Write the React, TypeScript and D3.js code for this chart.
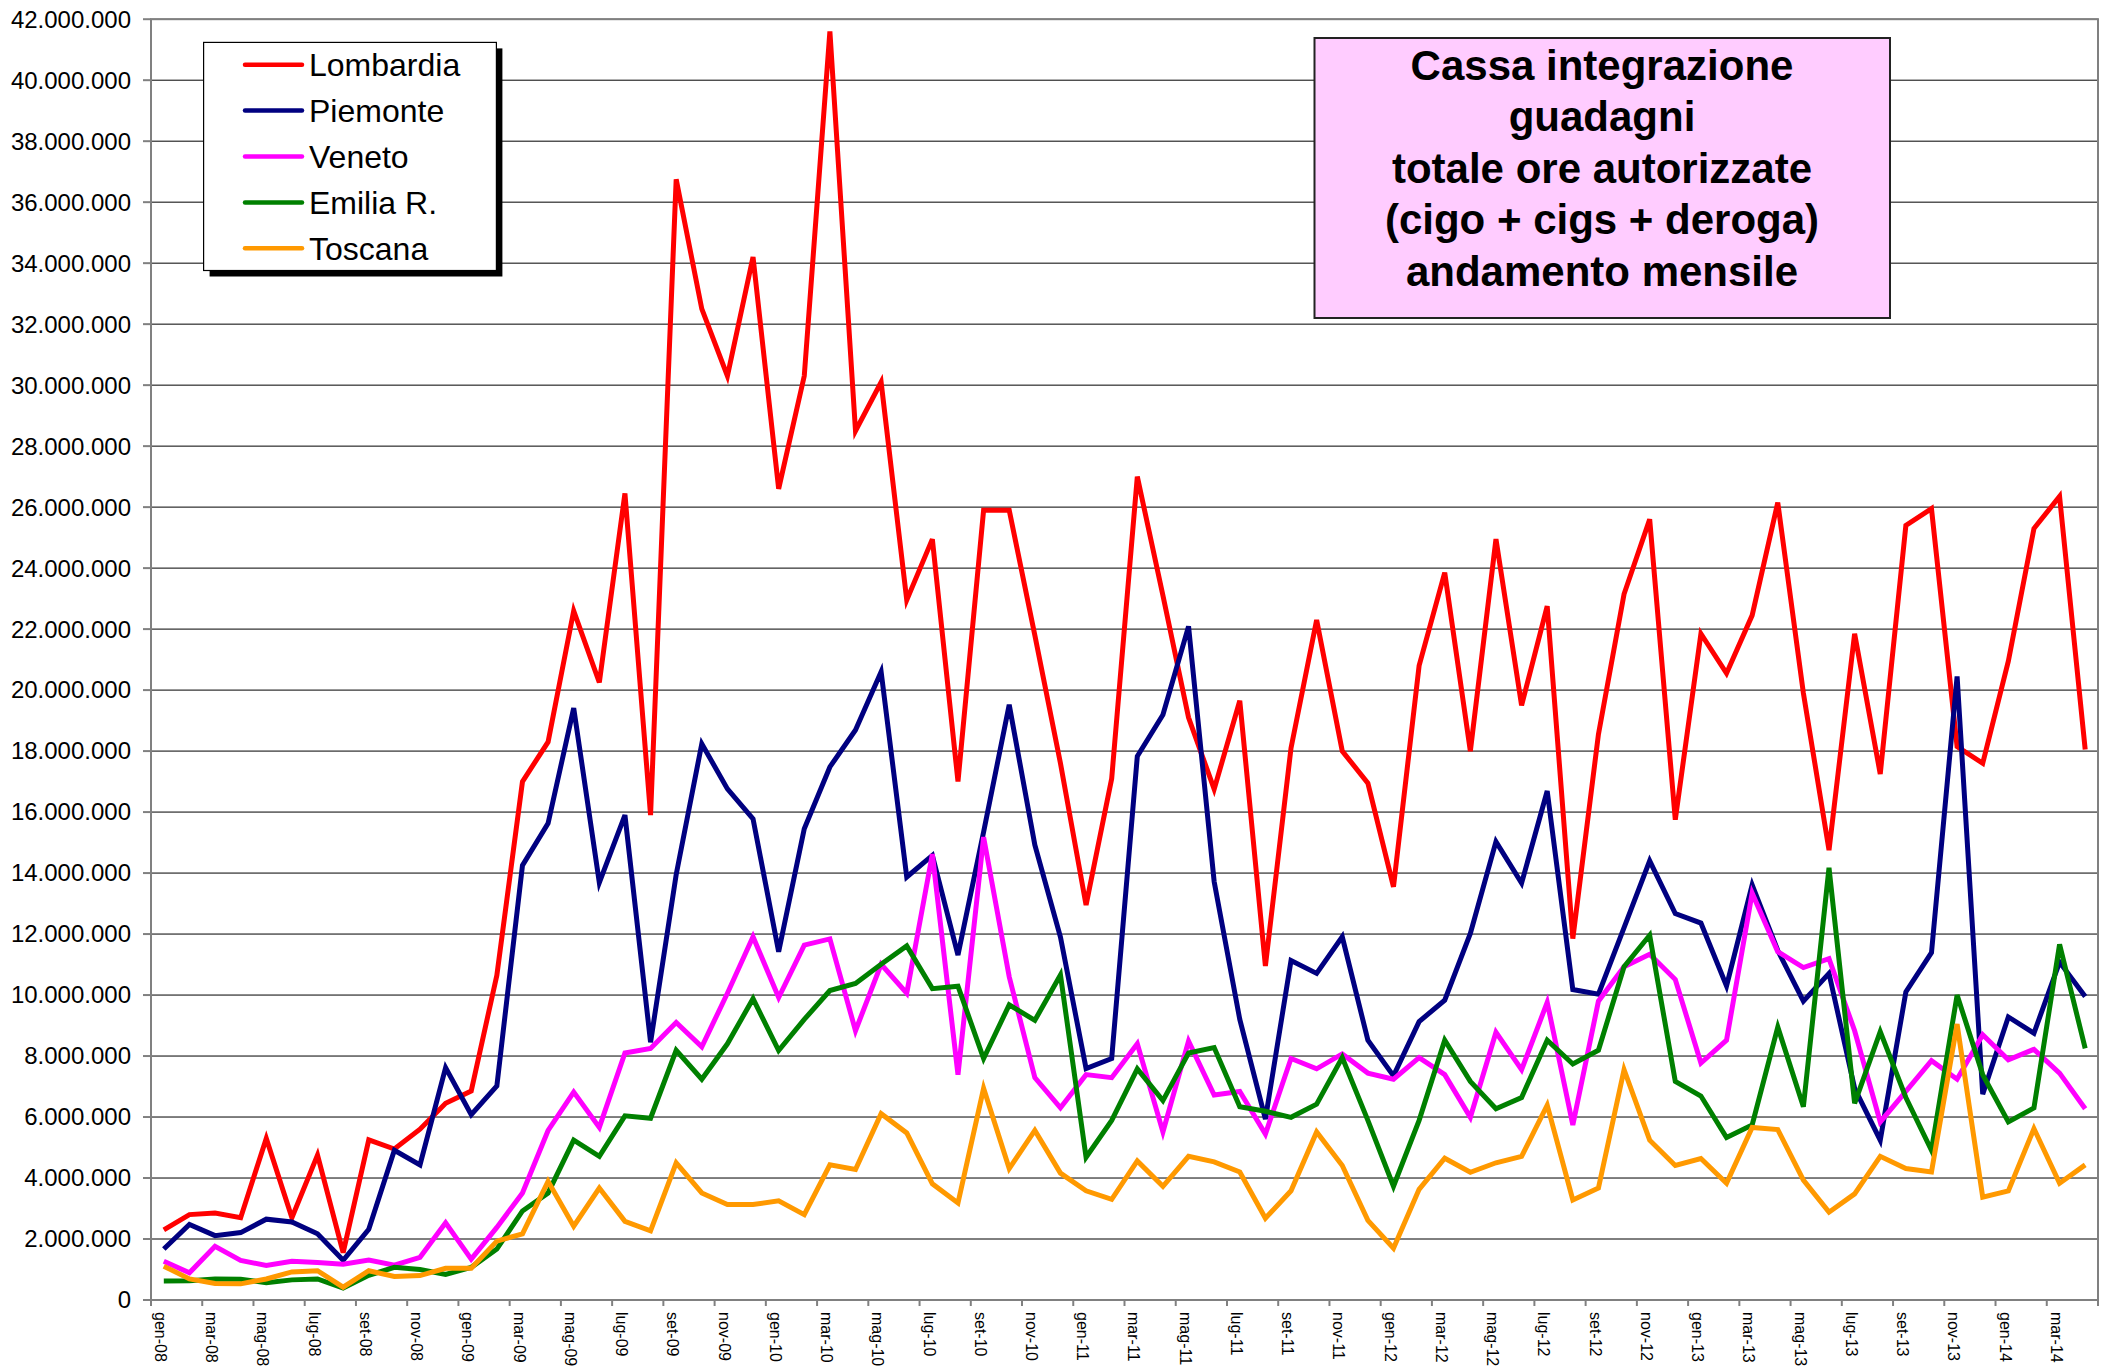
import React from 'react';
import * as d3 from 'd3';

const categories = [
  'gen-08','feb-08','mar-08','apr-08','mag-08','giu-08','lug-08','ago-08','set-08','ott-08','nov-08','dic-08',
  'gen-09','feb-09','mar-09','apr-09','mag-09','giu-09','lug-09','ago-09','set-09','ott-09','nov-09','dic-09',
  'gen-10','feb-10','mar-10','apr-10','mag-10','giu-10','lug-10','ago-10','set-10','ott-10','nov-10','dic-10',
  'gen-11','feb-11','mar-11','apr-11','mag-11','giu-11','lug-11','ago-11','set-11','ott-11','nov-11','dic-11',
  'gen-12','feb-12','mar-12','apr-12','mag-12','giu-12','lug-12','ago-12','set-12','ott-12','nov-12','dic-12',
  'gen-13','feb-13','mar-13','apr-13','mag-13','giu-13','lug-13','ago-13','set-13','ott-13','nov-13','dic-13',
  'gen-14','feb-14','mar-14','apr-14'
];

// values in millions of hours
const lombardia = [2.3,2.8,2.85,2.7,5.3,2.7,4.75,1.55,5.25,4.95,5.6,6.45,6.85,10.65,17.0,18.3,22.6,20.25,26.45,15.9,36.75,32.5,30.3,34.2,26.6,30.3,41.6,28.5,30.1,22.95,24.95,17.0,25.9,25.9,21.8,17.6,12.95,17.1,27.0,23.1,19.1,16.75,19.65,10.95,18.1,22.3,18.0,16.95,13.55,20.8,23.85,18.0,24.95,19.5,22.75,11.85,18.55,23.15,25.6,15.75,21.85,20.55,22.45,26.15,19.9,14.75,21.85,17.25,25.4,25.95,18.15,17.6,20.95,25.3,26.35,18.05];
const piemonte = [1.67,2.48,2.11,2.21,2.65,2.56,2.17,1.3,2.32,4.91,4.43,7.62,6.08,7.02,14.25,15.63,19.41,13.69,15.9,8.45,13.95,18.24,16.76,15.78,11.42,15.45,17.48,18.69,20.6,13.87,14.58,11.31,15.35,19.52,14.92,11.9,7.59,7.92,17.83,19.19,22.09,13.72,9.2,5.93,11.13,10.71,11.91,8.52,7.35,9.13,9.83,12.02,15.03,13.67,16.69,10.18,10.03,12.21,14.4,12.67,12.36,10.3,13.61,11.46,9.8,10.71,6.94,5.24,10.1,11.39,20.45,6.75,9.28,8.75,11.08,9.95];
const veneto = [1.27,0.89,1.76,1.3,1.13,1.27,1.23,1.17,1.31,1.14,1.4,2.53,1.34,2.38,3.51,5.56,6.82,5.66,8.1,8.25,9.1,8.3,10.06,11.91,9.92,11.64,11.84,8.83,11.01,10.06,14.62,7.39,15.18,10.6,7.29,6.3,7.39,7.29,8.4,5.51,8.49,6.72,6.84,5.44,7.92,7.58,8.07,7.44,7.24,7.95,7.39,5.99,8.78,7.55,9.76,5.74,9.8,10.93,11.34,10.51,7.77,8.52,13.34,11.42,10.9,11.19,8.83,5.84,6.84,7.85,7.24,8.7,7.88,8.22,7.44,6.27];
const emilia = [0.62,0.63,0.69,0.68,0.57,0.66,0.69,0.39,0.81,1.07,1.0,0.84,1.07,1.67,2.92,3.51,5.24,4.71,6.04,5.96,8.19,7.24,8.4,9.88,8.18,9.2,10.15,10.38,11.01,11.61,10.21,10.29,7.92,9.68,9.17,10.66,4.68,5.89,7.58,6.54,8.1,8.28,6.34,6.19,5.99,6.42,7.95,5.89,3.73,5.89,8.52,7.17,6.27,6.64,8.52,7.74,8.19,10.93,11.96,7.17,6.69,5.33,5.74,8.95,6.34,14.17,6.45,8.8,6.64,4.91,10.0,7.39,5.84,6.3,11.66,8.25];
const toscana = [1.11,0.69,0.54,0.53,0.69,0.92,0.96,0.42,0.96,0.77,0.8,1.04,1.04,1.93,2.17,3.89,2.42,3.67,2.58,2.27,4.5,3.51,3.13,3.13,3.25,2.8,4.43,4.28,6.11,5.48,3.81,3.18,6.94,4.31,5.56,4.16,3.58,3.3,4.56,3.73,4.71,4.53,4.2,2.68,3.58,5.51,4.41,2.61,1.7,3.63,4.65,4.19,4.5,4.71,6.39,3.28,3.67,7.55,5.24,4.41,4.64,3.83,5.66,5.59,3.93,2.88,3.48,4.71,4.31,4.2,9.05,3.37,3.58,5.62,3.83,4.43];

const seriesNames = ['Lombardia', 'Piemonte', 'Veneto', 'Emilia R.', 'Toscana'];
const seriesColors = ['#FF0000', '#000080', '#FF00FF', '#008000', '#FF9900'];
const seriesValues = [lombardia, piemonte, veneto, emilia, toscana];

const titleLines = ['Cassa integrazione', 'guadagni', 'totale ore autorizzate', '(cigo + cigs + deroga)', 'andamento mensile'];

const yTicks = [0, 2, 4, 6, 8, 10, 12, 14, 16, 18, 20, 22, 24, 26, 28, 30, 32, 34, 36, 38, 40, 42];

const FONT = '"Liberation Sans", Arial, Helvetica, sans-serif';

const itLocale = d3.formatLocale({ decimal: ',', thousands: '.', grouping: [3], currency: ['€', ''] });
const fmt = itLocale.format(',d');

export default function App() {
  const left = 151, right = 2098, top = 19.2, bottom = 1300;
  const x = d3.scaleBand<string>().domain(categories).range([left, right]).paddingInner(0).paddingOuter(0);
  const bw = x.bandwidth();
  const cx = (i: number) => (x(categories[i]) as number) + bw / 2;
  const y = d3.scaleLinear().domain([0, 42]).range([bottom, top]);
  const line = d3.line<number>().x((_, i) => cx(i)).y((d) => y(d));

  const xTickIdx = d3.range(0, categories.length + 1, 2);

  return (
    <svg width={2118} height={1370} style={{ position: 'absolute', left: 0, top: 0, background: '#fff' }} fontFamily={FONT}>
      <rect x={0} y={0} width={2118} height={1370} fill="#fff" />
      {/* gridlines */}
      {yTicks.map((t) => (
        <line key={'g' + t} x1={left} x2={right} y1={y(t)} y2={y(t)} stroke="#000" strokeWidth={1} />
      ))}
      {/* plot border */}
      <rect x={left} y={top} width={right - left} height={bottom - top} fill="none" stroke="#808080" strokeWidth={2} />
      {/* y ticks & labels */}
      {yTicks.map((t) => (
        <g key={'yt' + t}>
          <line x1={left - 8} x2={left} y1={y(t)} y2={y(t)} stroke="#808080" strokeWidth={2} />
          <text x={131} y={y(t)} dy="0.35em" textAnchor="end" fontSize={24} fill="#000">{fmt(t * 1000000)}</text>
        </g>
      ))}
      {/* x ticks */}
      {xTickIdx.map((i) => {
        const xx = i < categories.length ? (x(categories[i]) as number) : right;
        return <line key={'xt' + i} x1={xx} x2={xx} y1={bottom} y2={bottom + 6} stroke="#808080" strokeWidth={2} />;
      })}
      {/* x labels */}
      {categories.map((c, i) =>
        i % 2 === 0 ? (
          <text key={'xl' + c} transform={`translate(${cx(i)},${1312}) rotate(90)`} dy="0.55em" fontSize={16} fill="#000">{c}</text>
        ) : null
      )}
      {/* series */}
      {seriesValues.map((vals, s) => (
        <path key={seriesNames[s]} d={line(vals) as string} fill="none" stroke={seriesColors[s]} strokeWidth={5} strokeLinejoin="miter" strokeLinecap="butt" />
      ))}
      {/* legend */}
      <g>
        <rect x={209.6} y={48.4} width={292.8} height={228.1} fill="#000" />
        <rect x={203.6} y={42.4} width={292.8} height={228.1} fill="#fff" stroke="#000" strokeWidth={1.2} />
        {seriesNames.map((n, i) => {
          const ly = 64.7 + i * 45.9;
          return (
            <g key={'lg' + n}>
              <line x1={245} x2={302} y1={ly} y2={ly} stroke={seriesColors[i]} strokeWidth={4.5} strokeLinecap="round" />
              <text x={309} y={ly} dy="0.36em" fontSize={32} fill="#000">{n}</text>
            </g>
          );
        })}
      </g>
      {/* title box */}
      <g>
        <rect x={1314.5} y={38} width={575.5} height={280} fill="#FFCCFF" stroke="#222" strokeWidth={2} />
        {titleLines.map((t, i) => (
          <text key={'tt' + i} x={1602} y={79.5 + i * 51.6} textAnchor="middle" fontSize={42} fontWeight="bold" fill="#000">{t}</text>
        ))}
      </g>
    </svg>
  );
}
